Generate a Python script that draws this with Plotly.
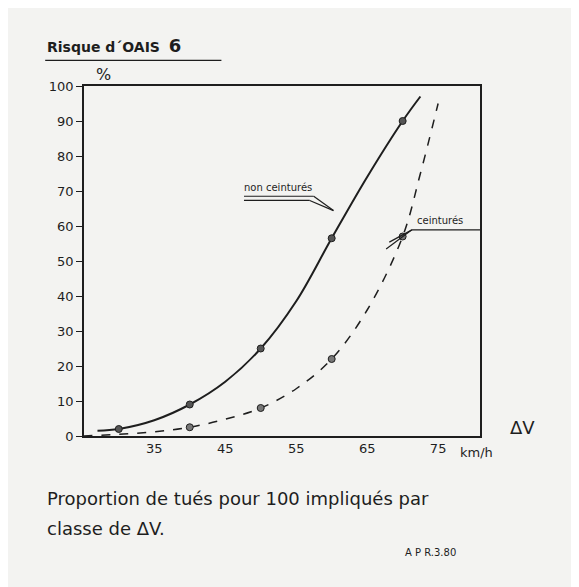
import plotly.graph_objects as go

# measured points
dv_points = [30, 40, 50, 60, 70]
non_ceint_pts = [2, 9, 25, 56.5, 90]
dv_points_c = [40, 50, 60, 70]
ceint_pts = [2.5, 8, 22, 57]

# hand-drawn curves
dv_curve_nc = [27, 30, 35, 40, 45, 50, 55, 60, 65, 70, 72.5]
curve_nc = [1.5, 2, 4.5, 9, 15.5, 25, 38.5, 56.5, 74, 90, 97]
dv_curve_c = [25, 30, 35, 40, 45, 50, 55, 60, 65, 70, 72.5, 75]
curve_c = [0, 0.5, 1.2, 2.5, 4.8, 8, 13.5, 22, 36, 57, 75, 95]

ink = "#1e1e1e"
font = "DejaVu Sans"

fig = go.Figure()
fig.add_trace(go.Scatter(x=dv_curve_nc, y=curve_nc, mode="lines",
                         line=dict(color=ink, width=2, shape="spline")))
fig.add_trace(go.Scatter(x=dv_curve_c, y=curve_c, mode="lines",
                         line=dict(color=ink, width=1.5, dash="dash", shape="spline")))
fig.add_trace(go.Scatter(x=dv_points, y=non_ceint_pts, mode="markers",
                         marker=dict(color="#555", size=7, line=dict(color=ink, width=1))))
fig.add_trace(go.Scatter(x=dv_points_c, y=ceint_pts, mode="markers",
                         marker=dict(color="#777", size=7, line=dict(color=ink, width=1))))

fig.update_layout(
    width=579, height=587, showlegend=False,
    paper_bgcolor="#f3f3f1", plot_bgcolor="#f3f3f1",
    margin=dict(l=76, r=107, t=78, b=159),
    font=dict(family=font, color=ink, size=13),
    xaxis=dict(range=[25.1, 80.9], tickvals=[35, 45, 55, 65, 75], showgrid=False,
               zeroline=False, showline=True, mirror=True, linecolor=ink, linewidth=1.5,
               ticks="", tickfont=dict(size=13)),
    yaxis=dict(range=[0, 100], tickvals=list(range(0, 101, 10)), showgrid=False,
               zeroline=False, showline=True, mirror=True, linecolor=ink, linewidth=1.5,
               ticks="outside", ticklen=6, tickcolor=ink, tickfont=dict(size=13)),
)

ann = [
    dict(x=-0.098, y=1.079, text="<b>Risque d´OAIS</b>  <b><span style='font-size:18px'>6</span></b>", font=dict(size=14)),
    dict(x=0.025, y=1.0, text="%", font=dict(size=16)),
    dict(x=1.07, y=-0.01, text="ΔV", font=dict(size=18)),
    dict(x=0.945, y=-0.075, text="km/h", font=dict(size=13)),
    dict(x=-0.098, y=-0.215, text="Proportion de tués pour 100 impliqués par", font=dict(size=18)),
    dict(x=-0.098, y=-0.30, text="classe de ΔV.", font=dict(size=18)),
    dict(x=0.805, y=-0.355, text="A P R.3.80", font=dict(size=10)),
    dict(x=0.40, y=0.69, text="non ceinturés", font=dict(size=10)),
    dict(x=0.835, y=0.595, text="ceinturés", font=dict(size=10)),
]
for a in ann:
    fig.add_annotation(xref="paper", yref="paper", xanchor="left", yanchor="bottom",
                       showarrow=False, **a)

# underline and pointer strokes
lines = [
    (-0.098, 1.073, 0.347, 1.073),
    (0.404, 0.685, 0.58, 0.685),
    (0.404, 0.673, 0.57, 0.673),
    (0.58, 0.685, 0.63, 0.644),
    (0.57, 0.673, 0.63, 0.644),
    (0.828, 0.589, 1.0, 0.589),
    (0.828, 0.589, 0.763, 0.534),
    (0.828, 0.589, 0.771, 0.554),
]
for x0, y0, x1, y1 in lines:
    fig.add_shape(type="line", xref="paper", yref="paper", x0=x0, y0=y0, x1=x1, y1=y1,
                  line=dict(color=ink, width=1.2))

fig.write_html("out.html")
